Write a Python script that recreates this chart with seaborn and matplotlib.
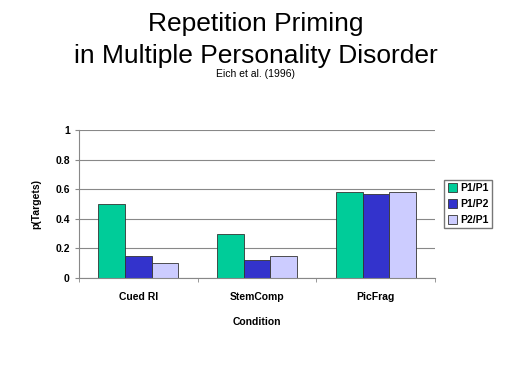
import pandas as pd
import matplotlib.pyplot as plt
import seaborn as sns

# repetition priming data
conditions = ['Cued RI', 'StemComp', 'PicFrag']
groups = ['P1/P1', 'P1/P2', 'P2/P1']
p11 = [0.50, 0.30, 0.58]
p12 = [0.15, 0.12, 0.57]
p21 = [0.10, 0.15, 0.58]
colors = ['#00CC99', '#3333CC', '#CCCCFF']

df = pd.DataFrame({'Condition': conditions * 3,
                   'Group': [g for g in groups for _ in conditions],
                   'p': p11 + p12 + p21})

sns.set_style('white')
plt.rcParams['font.family'] = ['Liberation Sans', 'DejaVu Sans']
plt.rcParams['text.color'] = 'black'
plt.rcParams['xtick.color'] = 'black'
plt.rcParams['ytick.color'] = 'black'
plt.rcParams['axes.labelcolor'] = 'black'

fig = plt.figure(figsize=(5.12, 3.84), dpi=100)
ax = fig.add_axes([0.154, 0.276, 0.696, 0.385])
sns.barplot(data=df, x='Condition', y='p', hue='Group', palette=colors,
            saturation=1, width=0.67, edgecolor='#333333', linewidth=0.6, ax=ax)

ax.set_ylim(0, 1)
ax.set_xlim(-0.5, 2.5)
ax.set_yticks([0, 0.2, 0.4, 0.6, 0.8, 1.0])
ax.set_yticklabels(['0', '0.2', '0.4', '0.6', '0.8', '1'], fontsize=7.5, fontweight='bold')
ax.yaxis.grid(True, color='#888888', linewidth=0.8)
ax.set_axisbelow(True)
for lbl in ax.get_xticklabels():
    lbl.set_fontsize(7.5)
    lbl.set_fontweight('bold')
ax.tick_params(axis='x', length=0, pad=10)
ax.set_xticks([-0.5, 0.5, 1.5, 2.5], minor=True)
ax.tick_params(axis='x', which='minor', length=3, color='#888888', direction='out', bottom=True)
ax.tick_params(axis='y', length=3, color='#888888', labelcolor='black', direction='out', left=True)
for s in ['top', 'right']:
    ax.spines[s].set_visible(False)
for s in ['left', 'bottom']:
    ax.spines[s].set_color('#888888')
ax.set_xlabel('Condition', fontsize=7.5, fontweight='bold', labelpad=11)
ax.set_ylabel('p(Targets)', fontsize=7.5, fontweight='bold', labelpad=10)

leg = ax.legend(loc='center left', bbox_to_anchor=(1.01, 0.5), fontsize=7.5,
                frameon=True, fancybox=False, edgecolor='#555555',
                handlelength=0.9, handleheight=0.9, handletextpad=0.3,
                labelspacing=0.55, borderpad=0.35)
for t in leg.get_texts():
    t.set_fontweight('bold')

fig.text(0.5, 0.938, 'Repetition Priming', ha='center', va='center', fontsize=19)
fig.text(0.5, 0.853, 'in Multiple Personality Disorder', ha='center', va='center', fontsize=19)
fig.text(0.5, 0.808, 'Eich et al. (1996)', ha='center', va='center', fontsize=7.5)

fig.savefig('out.png', dpi=100)
